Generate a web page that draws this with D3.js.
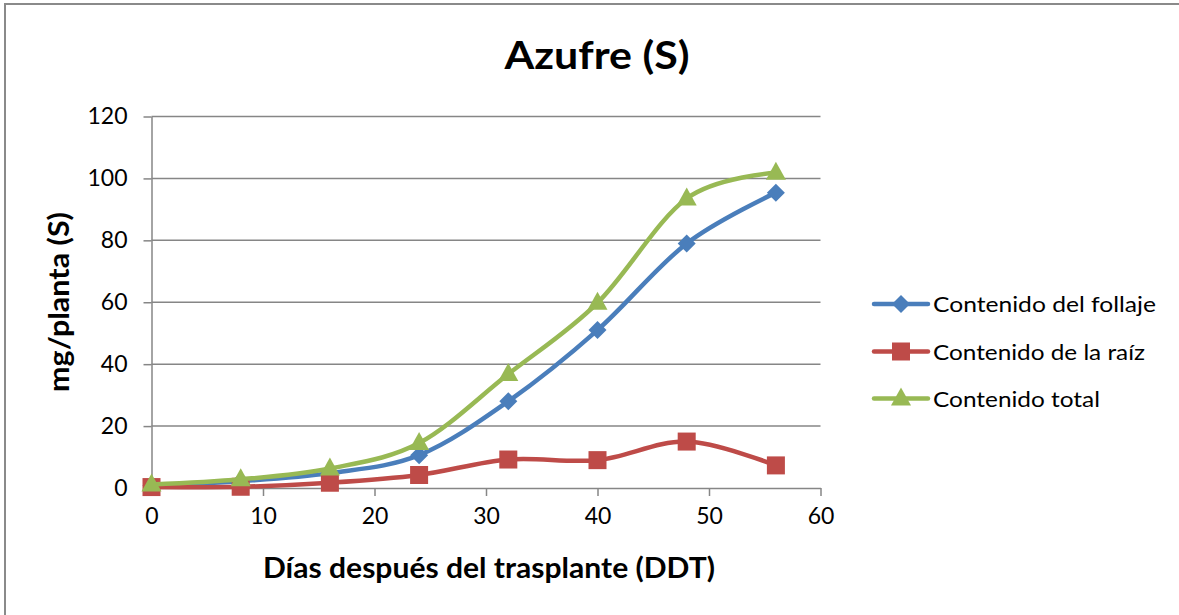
<!DOCTYPE html>
<html><head><meta charset="utf-8">
<script src="https://cdn.jsdelivr.net/npm/d3@7"></script>
<style>
html,body{margin:0;padding:0;background:#fff;}
svg{display:block;font-family:Lato,"Open Sans",sans-serif;}
</style></head>
<body>
<svg id="chart" width="1179" height="615"></svg>
<script>
const days = [0, 8, 16, 24, 32, 40, 48, 56];
const follaje = [0.8, 2.2, 4.8, 10.6, 28, 51, 79, 95.4];
const raiz = [0.3, 0.4, 1.7, 4.2, 9.2, 9.0, 15, 7.3];
const total = [1.1, 2.8, 6.3, 14.5, 36.8, 59.8, 93.5, 101.8];
const seriesNames = ["Contenido del follaje", "Contenido de la raíz", "Contenido total"];
const seriesColors = ["#4a7ebb", "#be4b48", "#98b954"];
const xTicks = [0, 10, 20, 30, 40, 50, 60];
const yTicks = [0, 20, 40, 60, 80, 100, 120];
const title = "Azufre (S)";
const xTitle = "Días después del trasplante (DDT)";
const yTitle = "mg/planta (S)";

const svg = d3.select("#chart");
const grid = "#868686";

svg.append("rect").attr("x", 5).attr("y", 4).attr("width", 1300).attr("height", 700)
  .attr("fill", "#fff").attr("stroke", "#8a8a8a").attr("stroke-width", 2);

const x = d3.scaleLinear().domain([0, 60]).range([151.5, 820.5]);
const y = d3.scaleLinear().domain([0, 120]).range([488, 116.5]);

// gridlines
svg.append("g").selectAll("line").data(yTicks.filter(d => d > 0)).join("line")
  .attr("x1", x(0)).attr("x2", x(60)).attr("y1", d => y(d)).attr("y2", d => y(d))
  .attr("stroke", grid).attr("stroke-width", 1.5);

// y axis
const yAxis = svg.append("g").attr("transform", `translate(${x(0)},0)`)
  .call(d3.axisLeft(y).tickValues(yTicks).tickSize(8).tickSizeOuter(0).tickPadding(16));
yAxis.select(".domain").attr("stroke", grid).attr("stroke-width", 1.5);
yAxis.selectAll(".tick line").attr("stroke", grid).attr("stroke-width", 1.5);
yAxis.selectAll(".tick text").attr("font-size", 23).attr("fill", "#000")
  .attr("font-family", "Lato, sans-serif");

// x axis
const xAxis = svg.append("g").attr("transform", `translate(0,${y(0)})`)
  .call(d3.axisBottom(x).tickValues(xTicks).tickSize(8).tickSizeOuter(0).tickPadding(12));
xAxis.select(".domain").attr("stroke", grid).attr("stroke-width", 1.5);
xAxis.selectAll(".tick line").attr("stroke", grid).attr("stroke-width", 1.5);
xAxis.selectAll(".tick text").attr("font-size", 23).attr("fill", "#000")
  .attr("font-family", "Lato, sans-serif");

const seriesData = [follaje, raiz, total];
const line = d3.line().x(d => x(d[0])).y(d => y(d[1])).curve(d3.curveCardinal.tension(0));

function marker(sel, i) {
  if (i === 0) {
    sel.append("path").attr("d", "M0,-9L9,0L0,9L-9,0Z").attr("fill", seriesColors[i]);
  } else if (i === 1) {
    sel.append("rect").attr("x", -9).attr("y", -9).attr("width", 18).attr("height", 18).attr("fill", seriesColors[i]);
  } else {
    sel.append("path").attr("d", "M0,-11L10,7L-10,7Z").attr("fill", seriesColors[i]);
  }
}

seriesData.forEach((vals, i) => {
  const pts = days.map((d, j) => [d, vals[j]]);
  svg.append("path").attr("d", line(pts)).attr("fill", "none")
    .attr("stroke", seriesColors[i]).attr("stroke-width", 4.5).attr("stroke-linejoin", "round");
  pts.forEach(p => {
    const g = svg.append("g").attr("transform", `translate(${x(p[0])},${y(p[1])})`);
    marker(g, i);
  });
});

// legend
const legY = [304, 351.5, 398.5];
const legLen = [223, 212, 167];
seriesNames.forEach((name, i) => {
  const g = svg.append("g").attr("transform", `translate(0,${legY[i]})`);
  g.append("line").attr("x1", 874).attr("x2", 928).attr("y1", 0).attr("y2", 0)
    .attr("stroke", seriesColors[i]).attr("stroke-width", 4.5).attr("stroke-linecap", "round");
  const m = g.append("g").attr("transform", "translate(901,0)");
  marker(m, i);
  g.append("text").attr("x", 933).attr("y", 8).attr("font-size", 22).attr("fill", "#000")
    .attr("textLength", legLen[i]).attr("lengthAdjust", "spacingAndGlyphs").text(name);
});

// titles
svg.append("text").attr("x", 597).attr("y", 69).attr("text-anchor", "middle")
  .attr("font-size", 38).attr("font-weight", "bold")
  .attr("textLength", 185).attr("lengthAdjust", "spacingAndGlyphs").text(title);
svg.append("text").attr("x", 489).attr("y", 578).attr("text-anchor", "middle")
  .attr("font-size", 28).attr("font-weight", "bold")
  .attr("textLength", 452).attr("lengthAdjust", "spacingAndGlyphs").text(xTitle);
svg.append("text").attr("transform", "translate(69,302) rotate(-90)").attr("text-anchor", "middle")
  .attr("font-size", 28).attr("font-weight", "bold")
  .attr("textLength", 180).attr("lengthAdjust", "spacingAndGlyphs").text(yTitle);
</script>
</body></html>
